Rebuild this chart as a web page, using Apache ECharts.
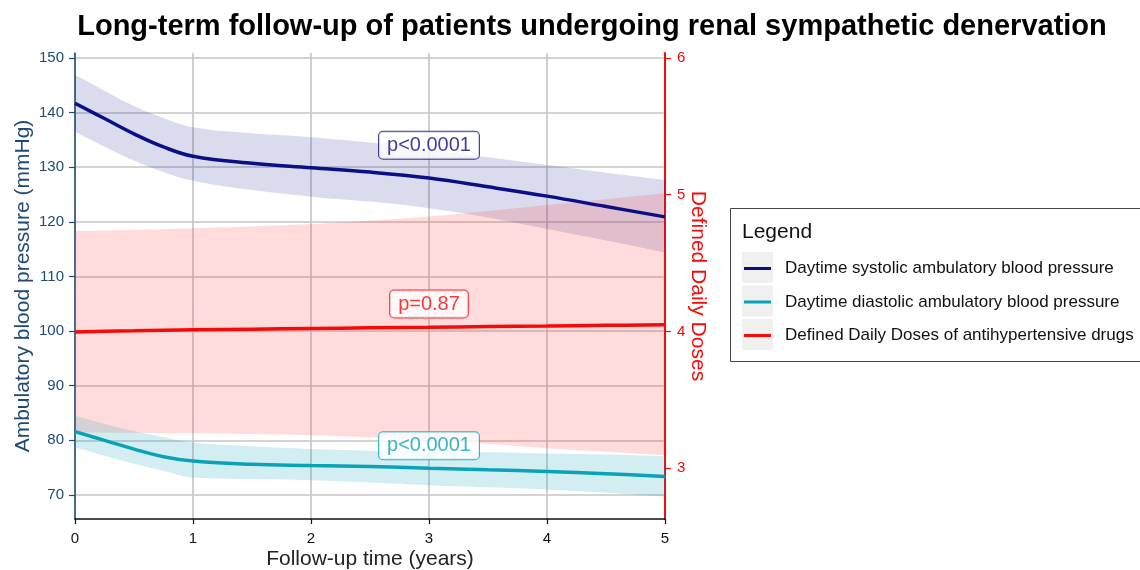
<!DOCTYPE html>
<html>
<head>
<meta charset="utf-8">
<script src="https://cdn.jsdelivr.net/npm/echarts@6/dist/echarts.min.js"></script>
<style>
  html, body { margin: 0; padding: 0; background: #fff; }
  #chart { width: 1140px; height: 570px; }
</style>
</head>
<body>
<div id="chart"></div>
<script>
// follow-up time (years)
var years = [0, 0.25, 0.5, 0.75, 1, 1.5, 2, 2.5, 3, 3.5, 4, 4.5, 5];

// daytime systolic ABP (mmHg) with CI
var sysMean  = [141.7, 138.9, 136.1, 133.7, 132.0, 130.7, 129.9, 129.1, 128.0, 126.4, 124.7, 122.8, 120.9];
var sysUpper = [146.9, 144.0, 141.2, 139.0, 137.3, 136.2, 135.5, 134.5, 133.2, 131.8, 130.4, 129.0, 127.7];
var sysLower = [136.5, 133.8, 131.2, 129.1, 127.5, 125.8, 124.6, 123.7, 122.5, 120.8, 118.7, 116.6, 114.4];

// daytime diastolic ABP (mmHg) with CI
var diaMean  = [81.6, 80.0, 78.4, 77.0, 76.2, 75.6, 75.4, 75.2, 74.9, 74.6, 74.3, 73.9, 73.4];
var diaUpper = [84.5, 83.0, 81.7, 80.6, 79.6, 78.9, 78.4, 78.1, 77.9, 77.8, 77.6, 77.4, 77.1];
var diaLower = [78.7, 77.2, 75.7, 74.4, 73.2, 72.9, 72.7, 72.3, 71.8, 71.4, 71.0, 70.4, 69.7];

// defined daily doses with CI
var dddMean  = [3.995, 4.000, 4.004, 4.008, 4.011, 4.016, 4.021, 4.026, 4.030, 4.035, 4.039, 4.044, 4.048];
var dddUpper = [4.735, 4.738, 4.742, 4.748, 4.755, 4.768, 4.785, 4.810, 4.840, 4.880, 4.925, 4.967, 5.010];
var dddLower = [3.260, 3.259, 3.258, 3.256, 3.255, 3.249, 3.240, 3.225, 3.205, 3.177, 3.145, 3.120, 3.095];

var leftTicks = [70, 80, 90, 100, 110, 120, 130, 140, 150];
var rightTicks = [3, 4, 5, 6];

var seriesNames = [
  "Daytime systolic ambulatory blood pressure",
  "Daytime diastolic ambulatory blood pressure",
  "Defined Daily Doses of antihypertensive drugs"
];

// p-value labels
var pLabels = ["p<0.0001", "p=0.87", "p<0.0001"];
var pYears = [3, 3, 3];
var pValues = [134.0, 4.2, 79.0];

var NAVY = "#0b0f86";
var TEAL = "#0aa2b6";
var RED = "#f50a0a";
var AXIS_BLUE = "#1f4a73";

function pairs(ys) {
  return years.map(function (x, i) { return [x, ys[i]]; });
}
// band data is [value, year] so the stack runs on the value column
function flipped(ys) {
  return years.map(function (x, i) { return [ys[i], x]; });
}
function diffs(up, lo) {
  return years.map(function (x, i) { return [+(up[i] - lo[i]).toFixed(4), x]; });
}

function band(id, lo, up, axis, color) {
  return [
    {
      name: id + "_lo", type: "line", stack: id, yAxisIndex: axis,
      data: flipped(lo), encode: { x: 1, y: 0 }, smooth: 0.4, symbol: "none",
      lineStyle: { opacity: 0 }, silent: true, z: 1
    },
    {
      name: id + "_band", type: "line", stack: id, yAxisIndex: axis,
      data: diffs(up, lo), encode: { x: 1, y: 0 }, smooth: 0.4, symbol: "none",
      lineStyle: { opacity: 0 }, areaStyle: { color: color, opacity: 1 },
      silent: true, z: 1
    }
  ];
}

function meanLine(name, ys, axis, color) {
  return {
    name: name, type: "line", yAxisIndex: axis, data: pairs(ys),
    smooth: 0.4, symbol: "none", z: 3,
    lineStyle: { color: color, width: 3.5 }, itemStyle: { color: color }
  };
}

function pLabel(i, axis, color) {
  return {
    name: "p" + i, type: "scatter", yAxisIndex: axis, symbolSize: 0, z: 5,
    data: [[pYears[i], pValues[i]]],
    label: {
      show: true, position: "inside", formatter: pLabels[i],
      color: color, fontSize: 20, fontFamily: "Liberation Sans",
      backgroundColor: "#fff", borderColor: color, borderWidth: 1,
      borderRadius: 4, padding: [4, 8, 3, 8]
    }
  };
}

var chart = echarts.init(document.getElementById("chart"));

var keyBoxes = [0, 1, 2].map(function (i) {
  return {
    type: "rect", shape: { x: 742, y: 252 + i * 33.5, width: 31, height: 31 },
    style: { fill: "#f0f0f0" }, z: 0
  };
});

var option = {
  animation: false,
  textStyle: { fontFamily: "Liberation Sans" },
  grid: { left: 75, right: 475, top: 53, bottom: 51, containLabel: false, outerBoundsMode: "none" },
  xAxis: {
    type: "value", min: 0, max: 5, interval: 1,
    name: "Follow-up time (years)", nameLocation: "middle", nameGap: 30, nameMoveOverlap: false,
    nameTextStyle: { fontSize: 21, color: "#222" },
    axisLine: { lineStyle: { color: "#111", width: 1.5 } },
    axisTick: { show: true, length: 5, lineStyle: { color: "#111", width: 1.2 } },
    axisLabel: { fontSize: 15, color: "#111", margin: 12 },
    splitLine: { show: true, lineStyle: { color: "#c4c4c4", width: 1.6 } }
  },
  yAxis: [
    {
      type: "value", min: 65.6, max: 150.9,
      name: "Ambulatory blood pressure (mmHg)", nameLocation: "middle", nameGap: 41, nameMoveOverlap: false,
      nameTextStyle: { fontSize: 21, color: AXIS_BLUE },
      axisLine: { show: true, lineStyle: { color: AXIS_BLUE, width: 1.5 } },
      axisTick: { show: true, length: 6, customValues: leftTicks, lineStyle: { color: AXIS_BLUE, width: 1.2 } },
      axisLabel: { fontSize: 15, color: AXIS_BLUE, margin: 11, customValues: leftTicks },
      splitLine: { show: true, lineStyle: { color: "#c4c4c4", width: 1.6 } }
    },
    {
      type: "value", min: 2.627, max: 6.037, position: "right",
      name: "Defined Daily Doses", nameLocation: "middle", nameGap: 22, nameRotate: -90, nameMoveOverlap: false,
      nameTextStyle: { fontSize: 21, color: RED },
      axisLine: { show: true, lineStyle: { color: RED, width: 2 } },
      axisTick: { show: true, length: 6, customValues: rightTicks, lineStyle: { color: RED, width: 1.2 } },
      axisLabel: { fontSize: 15, color: RED, margin: 12, customValues: rightTicks },
      splitLine: { show: false }
    }
  ],
  legend: [0, 1, 2].map(function (i) {
    return {
      data: [seriesNames[i]], orient: "vertical",
      left: 744, top: 260 + i * 33.5, padding: 0,
      itemWidth: 27, itemHeight: 3, icon: "rect",
      selectedMode: false,
      textStyle: { fontSize: 17, color: "#111", padding: [0, 0, 0, 9] }
    };
  }),
  graphic: [
    {
      type: "text", x: 592, y: 27, z: 10,
      style: {
        text: "Long-term follow-up of patients undergoing renal sympathetic denervation",
        fontSize: 29, fontWeight: "bold", fill: "#000",
        fontFamily: "Liberation Sans", align: "center", verticalAlign: "middle"
      }
    },
    {
      type: "rect", shape: { x: 730.5, y: 208.5, width: 420, height: 153 },
      style: { fill: "#fff", stroke: "#444", lineWidth: 1 }, z: -1
    },
    {
      type: "text", x: 742, y: 232, z: 10,
      style: {
        text: "Legend", fontSize: 21, fill: "#111",
        fontFamily: "Liberation Sans", verticalAlign: "middle"
      }
    }
  ].concat(keyBoxes),
  series: []
    .concat(band("sys", sysLower, sysUpper, 0, "rgba(10,20,140,0.15)"))
    .concat(band("ddd", dddLower, dddUpper, 1, "rgba(255,30,30,0.16)"))
    .concat(band("dia", diaLower, diaUpper, 0, "rgba(10,162,182,0.18)"))
    .concat([
      meanLine(seriesNames[0], sysMean, 0, NAVY),
      meanLine(seriesNames[1], diaMean, 0, TEAL),
      meanLine(seriesNames[2], dddMean, 1, RED),
      pLabel(0, 0, NAVY),
      pLabel(1, 1, RED),
      pLabel(2, 0, TEAL)
    ])
};

chart.setOption(option);
</script>
</body>
</html>
